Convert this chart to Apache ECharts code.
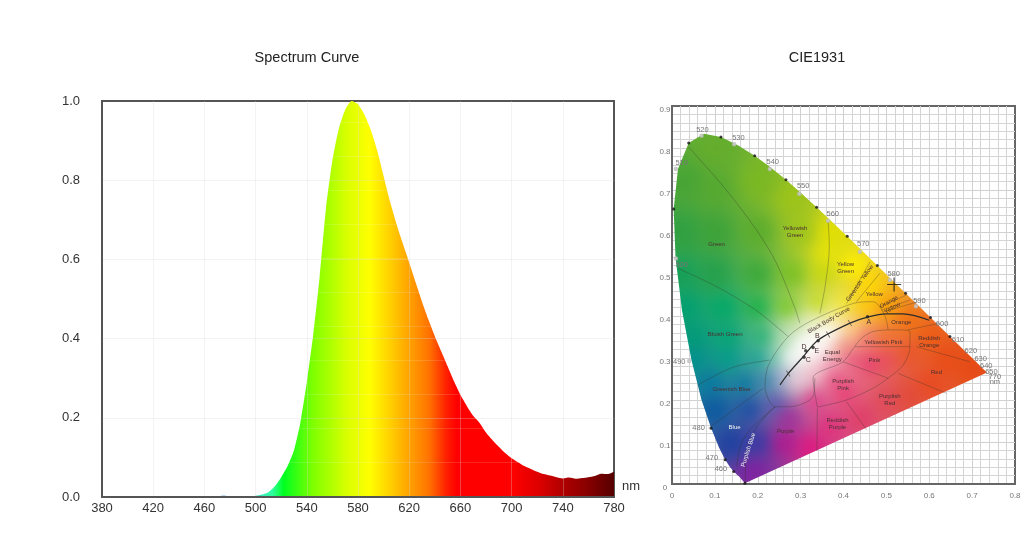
<!DOCTYPE html>
<html>
<head>
<meta charset="utf-8">
<title>Spectrum Curve / CIE1931</title>
<style>
  html, body { margin: 0; padding: 0; background: #fff; }
  #main { width: 1024px; height: 540px; }
</style>
<script src="https://cdn.jsdelivr.net/npm/echarts@6/dist/echarts.min.js"></script>
</head>
<body>
<div id="main"></div>
<script>
// spectrum
const wavelengths = [380,385,390,395,400,405,410,415,420,425,430,435,440,445,450,455,460,465,470,475,480,485,490,495,500,505,510,515,520,525,530,535,540,545,550,555,560,565,570,575,580,585,590,595,600,605,610,615,620,625,630,635,640,645,650,655,660,665,670,675,680,685,690,695,700,705,710,715,720,725,730,735,740,745,750,755,760,765,770,775,780];
const intensity = [.001,.001,.002,.001,.001,.001,.001,.002,.002,.002,.002,.002,.002,.002,.002,.002,.002,.002,.002,.003,.002,.002,.002,.002,.003,.006,.012,.027,.05,.078,.118,.188,.29,.409,.555,.73,.85,.93,.978,1,.992,.966,.927,.875,.81,.746,.69,.64,.592,.542,.493,.448,.406,.368,.33,.292,.258,.23,.205,.187,.163,.144,.127,.111,.098,.088,.078,.071,.064,.058,.054,.05,.047,.049,.046,.048,.05,.053,.059,.058,.064];

// CIE diagram outline (spectral locus, then the purple line back)
const gamutNm = [380,450,455,460,465,470,475,480,485,490,495,500,505,510,515,520,525,530,535,540,545,550,555,560,565,570,575,580,585,590,595,600,605,610,615,620,630,640,650,700];
const gamutX = [.170,.1566,.151,.144,.1355,.1241,.1096,.0913,.0687,.0454,.0235,.0082,.0039,.0139,.0389,.0743,.1142,.1547,.1929,.2296,.2658,.3016,.3373,.3731,.4087,.4441,.4788,.5125,.5448,.5752,.6029,.627,.6482,.6658,.6801,.6915,.7079,.719,.726,.7347];
const gamutY = [.002,.0177,.0227,.0297,.0399,.0578,.0868,.1327,.2007,.295,.4127,.5384,.6548,.7502,.812,.8338,.8262,.8059,.7816,.7543,.7243,.6923,.6589,.6245,.5896,.5547,.5202,.4866,.4544,.4242,.3965,.3725,.3514,.334,.3197,.3083,.292,.2809,.274,.2653];
const dottedNm = [380,460,470,480,505,515,525,535,545,555,565,575,585,595,605];
const nmRings = [[.069,.829],[.145,.809],[.228,.75],[.297,.691],[.364,.627],[.438,.553],[.508,.486],[.569,.423],[.009,.75],[.009,.537],[.04,.293]];

// colour region boundaries
const regionLines = [
  [[.038,.803],[.12,.708],[.197,.605],[.244,.525],[.287,.418],[.298,.383]],
  [[.364,.627],[.367,.565],[.357,.47],[.345,.406]],
  [[.015,.513],[.104,.47],[.19,.418],[.221,.394],[.271,.351]],
  [[.061,.236],[.143,.278],[.228,.295]],
  [[.085,.133],[.213,.228]],
  [[.171,.003],[.173,.065],[.193,.129],[.24,.184]],
  [[.151,.041],[.159,.089],[.182,.129],[.24,.184]],
  [[.338,.079],[.339,.18]],
  [[.407,.196],[.454,.129]],
  [[.339,.183],[.407,.2],[.469,.228],[.504,.252],[.539,.283],[.555,.327],[.555,.363],[.516,.367],[.469,.363],[.442,.347],[.423,.323],[.399,.291],[.329,.252],[.339,.183]],
  [[.504,.367],[.496,.402],[.469,.434],[.423,.43],[.322,.387],[.271,.351],[.225,.283],[.217,.232],[.24,.184],[.275,.184],[.329,.208],[.333,.252]],
  [[.407,.43],[.462,.529]],
  [[.43,.434],[.485,.502]],
  [[.489,.414],[.555,.438]],
  [[.493,.41],[.574,.434]],
  [[.485,.422],[.547,.45]],
  [[.55,.367],[.625,.383]],
  [[.57,.327],[.695,.291]],
  [[.528,.263],[.64,.216]],
  [[.427,.327],[.555,.327]],
  [[.399,.291],[.504,.252]]
];

// black body curve and its marks
const blackBodyX = [.252,.271,.306,.341,.415,.458,.5,.539,.6];
const blackBodyY = [.236,.263,.303,.343,.383,.398,.405,.405,.39];
const blackBodyTicks = [[.271,.263],[.364,.356],[.415,.383]];
const sourceDots = [[.456,.398],[.341,.341],[.308,.302],[.312,.317],[.329,.325]];
const crossMark = [[.518,.475]];

// wavelength labels
const nmLabels = ['520','530','540','550','560','570','580','590','600','610','620','630','640','650','770','nm','510','500','490','480','470','460'];
const nmLabelX = [.071,.155,.235,.306,.375,.446,.517,.577,.63,.667,.697,.72,.733,.745,.753,.753,.0225,.0225,.017,.062,.093,.114];
const nmLabelY = [.844,.825,.766,.709,.644,.571,.499,.437,.381,.343,.317,.298,.282,.267,.254,.242,.765,.521,.29,.133,.063,.035];

// names printed inside the diagram
const regionNames = ['Green','Yellowish\nGreen','Yellow\nGreen','Greenish Yellow','Yellow','Orange\nYellow','Orange','Reddish\nOrange','Yellowish Pink','Pink','Red','Purplish\nPink','Purplish\nRed','Reddish\nPurple','Purple','Purplish Blue','Blue','Greenish Blue','Bluish Green','Equal\nEnergy','Black Body Curve','A','B','C','D','E'];
const regionNameX = [.104,.287,.405,.438,.472,.51,.535,.6,.493,.472,.617,.399,.508,.386,.265,.178,.146,.139,.124,.374,.366,.459,.339,.318,.308,.338];
const regionNameY = [.571,.6,.515,.478,.452,.426,.385,.339,.338,.295,.267,.237,.2,.144,.126,.081,.135,.226,.357,.306,.39,.385,.353,.294,.327,.316];
const regionNameTilt = [0,0,0,55,0,30,0,0,0,0,0,0,0,0,0,72,0,0,0,0,30,0,0,0,0,0];

const spectrumStops = [
  [380,'#6a1a6a'],[450,'#2030c0'],[480,'#0070d0'],[500,'#40e0c0'],[513,'#30ffa0'],[522,'#00ff20'],
  [545,'#80ff00'],[571,'#d8ff00'],[589,'#ffff00'],[605,'#ffd000'],[623,'#ff9900'],[636,'#ff7000'],
  [649,'#ff2000'],[657,'#ff0000'],[700,'#ff0000'],[720,'#e00000'],[740,'#b00000'],[760,'#860000'],[780,'#560000']
];

// colours seen at points of the diagram, the fill is blended between them
const shadeSamples = [
  [.1,.8,'#64ad2c'],[.03,.72,'#47a535'],[.1,.7,'#55a930'],[.2,.72,'#7ab822'],[.28,.68,'#9cc418'],
  [.02,.6,'#2fa040'],[.1,.6,'#3ca238'],[.2,.6,'#5aac2c'],[.3,.6,'#9cc41c'],[.37,.6,'#e4e000'],[.36,.55,'#e8e408'],
  [.42,.52,'#fff000'],
  [.02,.5,'#15a058'],[.1,.5,'#24a04a'],[.2,.5,'#3aa838'],[.28,.5,'#78c020'],[.35,.5,'#c8d80c'],[.46,.47,'#ffd800'],
  [.03,.42,'#00a070'],[.12,.42,'#00a868'],[.2,.42,'#18b048'],[.27,.42,'#78c820'],[.34,.43,'#c0dc10'],[.4,.43,'#f0e820'],
  [.45,.42,'#ffc800'],[.5,.42,'#fa9c00'],[.55,.39,'#f07010'],[.6,.35,'#ec5a14'],
  [.05,.35,'#009a78'],[.13,.35,'#00a474'],[.21,.35,'#20b070'],
  [.05,.3,'#00908c'],[.13,.3,'#009c88'],[.2,.3,'#10a090'],
  [.09,.24,'#0878a0'],[.17,.24,'#0878a0'],[.22,.25,'#3080a8'],
  [.1,.18,'#0a58a0'],[.18,.18,'#1c4ca4'],[.24,.19,'#5858b0'],
  [.14,.1,'#1c40a0'],[.2,.1,'#3838a4'],[.19,.03,'#8020a0'],
  [.26,.1,'#b01890'],[.27,.16,'#a02c98'],[.32,.09,'#e01880'],
  [.37,.14,'#e0307c'],[.33,.2,'#e03c88'],[.44,.16,'#e03c68'],[.4,.22,'#e83c74'],
  [.5,.2,'#e04858'],[.6,.24,'#e84a20'],[.55,.21,'#e24a38'],
  [.7,.28,'#e64a14'],[.64,.3,'#e84c16'],
  [.46,.29,'#e63a6c'],[.5,.3,'#e84c58'],[.55,.31,'#e85428'],[.5,.35,'#f07030'],
  [.42,.3,'#e8507c'],[.38,.25,'#e84c80'],[.45,.35,'#f0706c'],
  [.24,.3,'#60c0a0'],[.25,.26,'#a0a8d0'],[.29,.25,'#f0d0dc'],[.33,.27,'#f8c0d0'],[.37,.29,'#f090b0'],
  [.4,.33,'#f0907c'],[.42,.37,'#ffd080'],[.38,.41,'#f8f080'],[.33,.39,'#e8f0b0'],[.29,.37,'#c0e0a0'],[.26,.34,'#a0d8a0'],
  [.27,.3,'#ffffff'],[.29,.31,'#ffffff'],[.3,.33,'#ffffff'],[.32,.33,'#ffffff'],[.33,.35,'#ffffff'],[.35,.35,'#ffffff'],[.36,.36,'#ffffff'],[.31,.345,'#ffffff'],[.34,.32,'#ffffff'],[.375,.365,'#fffdf0'],[.31,.31,'#ffffff']
];

function stripeTile() {
  const c = document.createElement('canvas');
  c.width = 2; c.height = 34;
  const g = c.getContext('2d');
  g.fillStyle = 'rgba(255,255,255,0.14)';
  g.fillRect(0, 20, 2, 1);
  return c;
}

// paints the blended colours on a page sized canvas, used as the outline's fill
let shadeCanvas = null;
function shadeFill(api) {
  if (shadeCanvas) return shadeCanvas;
  const pts = shadeSamples.map(s => {
    const p = api.coord([s[0], s[1]]);
    const n = parseInt(s[2].slice(1), 16);
    return [p[0], p[1], n >> 16, (n >> 8) & 255, n & 255];
  });
  const x0 = 650, y0 = 90, w = 374, h = 420;
  const raw = document.createElement('canvas');
  raw.width = w; raw.height = h;
  const rawCtx = raw.getContext('2d');
  const img = rawCtx.createImageData(w, h);
  for (let y = 0; y < h; y++) {
    for (let x = 0; x < w; x++) {
      let sum = 0, r = 0, gr = 0, b = 0;
      for (const p of pts) {
        const dx = x + x0 - p[0], dy = y + y0 - p[1];
        const d2 = dx * dx + dy * dy + 60;
        const wt = 1 / (d2 * Math.sqrt(d2));
        sum += wt; r += wt * p[2]; gr += wt * p[3]; b += wt * p[4];
      }
      const i = (y * w + x) * 4;
      img.data[i] = r / sum; img.data[i + 1] = gr / sum; img.data[i + 2] = b / sum; img.data[i + 3] = 255;
    }
  }
  rawCtx.putImageData(img, 0, 0);
  shadeCanvas = document.createElement('canvas');
  shadeCanvas.width = 1024; shadeCanvas.height = 540;
  const g = shadeCanvas.getContext('2d');
  g.filter = 'blur(5px)';
  g.drawImage(raw, x0, y0);
  return shadeCanvas;
}

function nameText(params, api) {
  const i = params.dataIndex;
  const p = api.coord([regionNameX[i], regionNameY[i]]);
  const name = regionNames[i];
  const white = name === 'Blue' || name === 'Purplish Blue';
  return {
    type: 'text',
    x: p[0], y: p[1],
    rotation: regionNameTilt[i] * Math.PI / 180,
    style: {
      text: name,
      fill: white ? '#f4f4f4' : '#4a3030',
      font: (name.length === 1 ? 7 : 6) + 'px "Liberation Sans"',
      align: 'center',
      verticalAlign: 'middle',
      lineHeight: 7
    }
  };
}

function nmText(params, api) {
  const i = params.dataIndex;
  const p = api.coord([nmLabelX[i], nmLabelY[i]]);
  return {
    type: 'text',
    x: p[0], y: p[1],
    style: { text: nmLabels[i], fill: '#777', font: '7.5px "Liberation Sans"', align: 'center', verticalAlign: 'middle' }
  };
}

const cieAxisBase = {
  min: 0,
  interval: 0.1,
  axisLine: { show: true, onZero: false, lineStyle: { color: '#666', width: 2 } },
  axisTick: { show: false },
  splitLine: { show: true, showMinLine: false, showMaxLine: false, lineStyle: { color: '#d0d0d0', width: 1 } },
  minorTick: { show: false, splitNumber: 5 },
  minorSplitLine: { show: true, lineStyle: { color: '#d4d4d4', width: 1 } }
};

const spectrumAxisLine = { show: true, onZero: false, lineStyle: { color: '#555', width: 2 } };
const spectrumGridLine = { show: true, showMinLine: false, showMaxLine: false, lineStyle: { color: 'rgba(215,215,215,0.3)', width: 1 } };

const series = [
  {
    type: 'line',
    data: wavelengths.map((w, i) => [w, intensity[i]]),
    showSymbol: false,
    smooth: 0.2,
    lineStyle: { width: 0 },
    areaStyle: {
      opacity: 1,
      color: new echarts.graphic.LinearGradient(0, 0, 1, 0,
        spectrumStops.map(s => ({ offset: (s[0] - 380) / 400, color: s[1] })))
    },
    z: 2
  },
  {
    // thin pale stripes that run across the filled part
    type: 'line',
    data: wavelengths.map((w, i) => [w, intensity[i]]),
    showSymbol: false,
    smooth: 0.2,
    lineStyle: { width: 0 },
    areaStyle: { opacity: 1, color: { image: stripeTile(), repeat: 'repeat' } },
    z: 3
  },
  {
    type: 'custom',
    xAxisIndex: 1, yAxisIndex: 1,
    data: [[.3, .3]],
    renderItem: (params, api) => ({
      type: 'polygon',
      shape: { points: gamutX.map((x, i) => api.coord([x, gamutY[i]])) },
      style: { fill: { image: shadeFill(api), repeat: 'no-repeat' } }
    }),
    z: 3
  }
];

regionLines.forEach(pts => {
  series.push({
    type: 'line',
    xAxisIndex: 1, yAxisIndex: 1,
    data: pts,
    showSymbol: false,
    smooth: 0.3,
    lineStyle: { color: 'rgba(50,50,40,0.4)', width: 0.8 },
    z: 4
  });
});

series.push({
  type: 'line',
  xAxisIndex: 1, yAxisIndex: 1,
  data: blackBodyX.map((x, i) => [x, blackBodyY[i]]),
  showSymbol: false,
  smooth: 0.3,
  lineStyle: { color: '#2c2c2c', width: 1.2 },
  z: 5
});
series.push({
  type: 'scatter',
  xAxisIndex: 1, yAxisIndex: 1,
  data: blackBodyTicks,
  symbol: 'rect',
  symbolSize: [0.8, 7],
  symbolRotate: 30,
  itemStyle: { color: '#444' },
  z: 5
});
series.push({
  type: 'scatter',
  xAxisIndex: 1, yAxisIndex: 1,
  data: sourceDots,
  symbolSize: 3.5,
  itemStyle: { color: '#222' },
  z: 6
});
series.push({
  type: 'scatter',
  xAxisIndex: 1, yAxisIndex: 1,
  data: dottedNm.map(n => {
    const i = gamutNm.indexOf(n);
    return [gamutX[i], gamutY[i]];
  }),
  symbolSize: 3,
  itemStyle: { color: '#111' },
  z: 6
});
series.push({
  type: 'scatter',
  xAxisIndex: 1, yAxisIndex: 1,
  data: nmRings,
  symbol: 'emptyCircle',
  symbolSize: 2.5,
  itemStyle: { color: '#bbb', borderColor: '#aaa', borderWidth: 0.6 },
  z: 6
});
series.push({
  type: 'scatter',
  xAxisIndex: 1, yAxisIndex: 1,
  data: crossMark,
  symbol: 'path://M0 6.4H6.4V0H7.6V6.4H14V7.6H7.6V14H6.4V7.6H0Z',
  symbolSize: 14,
  itemStyle: { color: '#111' },
  z: 7
});
series.push({
  type: 'custom',
  xAxisIndex: 1, yAxisIndex: 1,
  data: regionNames.map((n, i) => [regionNameX[i], regionNameY[i]]),
  renderItem: nameText,
  z: 8
});
series.push({
  type: 'custom',
  xAxisIndex: 1, yAxisIndex: 1,
  data: nmLabels.map((n, i) => [nmLabelX[i], nmLabelY[i]]),
  renderItem: nmText,
  z: 8
});

const chart = echarts.init(document.getElementById('main'), null, { renderer: 'canvas' });
chart.setOption({
  animation: false,
  backgroundColor: '#fff',
  textStyle: { fontFamily: '"Liberation Sans", Arial, sans-serif' },
  title: [
    { text: 'Spectrum Curve', left: 307, top: 50, padding: 0, textAlign: 'center',
      textStyle: { fontSize: 14.5, fontWeight: 'normal', color: '#222' } },
    { text: 'CIE1931', left: 817, top: 50, padding: 0, textAlign: 'center',
      textStyle: { fontSize: 14.5, fontWeight: 'normal', color: '#222' } }
  ],
  grid: [
    { left: 102, top: 101, width: 512, height: 396, show: true, borderColor: '#555', borderWidth: 2, backgroundColor: '#fff' },
    { left: 672, top: 106, width: 343, height: 378, show: true, borderColor: '#666', borderWidth: 2, backgroundColor: '#fff' }
  ],
  xAxis: [
    {
      type: 'value', gridIndex: 0, min: 380, max: 780, interval: 40, z: 5,
      name: 'nm', nameLocation: 'end', nameGap: 8,
      nameTextStyle: { color: '#333', fontSize: 13, verticalAlign: 'bottom', padding: [0, 0, 4, 0] },
      axisLine: spectrumAxisLine, axisTick: { show: false },
      axisLabel: { color: '#333', fontSize: 13, margin: 5 },
      splitLine: spectrumGridLine
    },
    Object.assign({}, cieAxisBase, {
      type: 'value', gridIndex: 1, max: 0.8,
      axisLabel: { color: '#777', fontSize: 8, margin: 8, formatter: v => String(+v.toFixed(1)) }
    })
  ],
  yAxis: [
    {
      type: 'value', gridIndex: 0, min: 0, max: 1, interval: 0.2, z: 5,
      axisLine: spectrumAxisLine, axisTick: { show: false },
      axisLabel: { color: '#333', fontSize: 13, margin: 22, formatter: v => v.toFixed(1) },
      splitLine: spectrumGridLine
    },
    Object.assign({}, cieAxisBase, {
      type: 'value', gridIndex: 1, max: 0.9,
      axisLabel: { color: '#777', fontSize: 8, margin: 7, align: 'center', verticalAlign: 'top', formatter: v => String(+v.toFixed(1)) }
    })
  ],
  series: series
});
</script>
</body>
</html>
